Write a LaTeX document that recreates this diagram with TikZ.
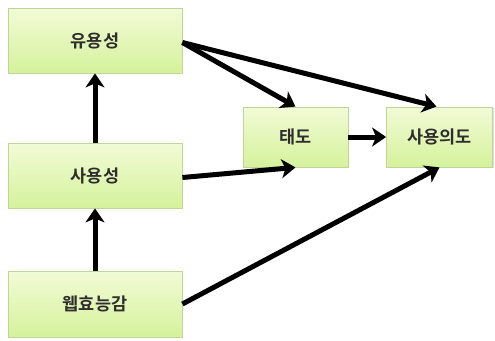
\documentclass[tikz,border=0pt]{standalone}
\usepackage{fontspec}
\newfontfamily\kofont{Noto Sans CJK KR Bold}
\usetikzlibrary{arrows.meta,positioning,shadows}
\definecolor{tamTop}  {HTML}{F2FBD6}
\definecolor{tamBot}  {HTML}{D5F29C}
\definecolor{tamRule} {HTML}{BFD595}
\definecolor{tamInk}  {HTML}{2E2E2E}

\tikzset{
  construct/.style={draw=tamRule,line width=0.8pt,top color=tamTop,bottom color=tamBot,
    font=\kofont\fontsize{17.5}{20}\selectfont,text=tamInk,
    drop shadow={shadow xshift=1pt,shadow yshift=-1pt,fill=black!25,opacity=0.5}},
  link/.style={line width=5pt,-{Stealth[length=14pt,width=19pt,inset=4pt]},black}
}

\begin{document}
\begin{tikzpicture}[x=1pt,y=-1pt]
  \useasboundingbox (0,0) rectangle (495,340);
  % constructs
  \node[construct,minimum width=174pt,minimum height=65pt] (usef) at (95,40.5) {유용성};
  \node[construct,minimum width=174pt,minimum height=65pt] (usab) at (95,175.5) {사용성};
  \node[construct,minimum width=174pt,minimum height=66pt] (webse) at (95,304) {웹효능감};
  \node[construct,minimum width=105pt,minimum height=60pt] (attd) at (295.5,137) {태도};
  \node[construct,minimum width=106pt,minimum height=60pt] (intn) at (439.5,137) {사용의도};
  % links
  \draw[link] (usab.north) -- (usef.south);
  \draw[link] (webse.north) -- (usab.south);
  \draw[link] ([yshift=-2pt]usef.east) -- (attd.north);
  \draw[link] ([yshift=-2pt]usef.east) -- ([xshift=-3pt]intn.north);
  \draw[link] ([yshift=-2pt]usab.east) -- (attd.south);
  \draw[link] (webse.east) -- (intn.south);
  \draw[link] (attd.east) -- (intn.west);
\end{tikzpicture}
\end{document}
